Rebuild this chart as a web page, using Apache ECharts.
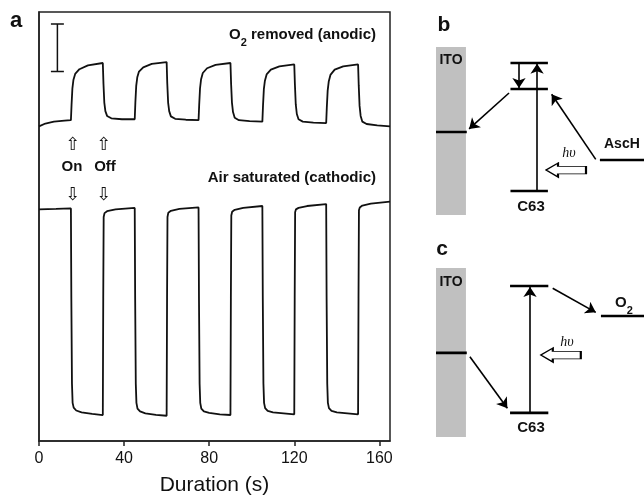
<!DOCTYPE html>
<html>
<head>
<meta charset="utf-8">
<script src="https://cdn.jsdelivr.net/npm/echarts@6/dist/echarts.min.js"></script>
<style>html,body{margin:0;padding:0;background:#fff}#c{width:644px;height:495px}</style>
</head>
<body>
<div id="c"></div>
<script>
// ---------- Panel a data (time in s, current in arbitrary units) ----------
const timeTicks = [0, 40, 80, 120, 160];
const anodic = [
  [0, 66.0], [3, 66.6], [7, 67.0], [12, 67.2], [15, 67.3],
  [15.3, 70.5], [15.7, 74.0], [16.2, 75.8], [17, 77.0], [19, 78.0], [23, 78.8], [30, 79.3],
  [30.3, 75.0], [30.7, 71.0], [31.2, 69.2], [32, 68.2], [34, 67.7], [39, 67.5], [45, 67.5],
  [45.3, 71.0], [45.7, 74.5], [46.2, 76.3], [47, 77.5], [49, 78.4], [53, 79.1], [60, 79.5],
  [60.3, 75.0], [60.7, 71.0], [61.2, 69.2], [62, 68.1], [64, 67.6], [69, 67.4], [75, 67.3],
  [75.3, 70.5], [75.7, 74.0], [76.2, 75.9], [77, 77.2], [79, 78.2], [83, 78.9], [90, 79.3],
  [90.3, 75.0], [90.7, 71.0], [91.2, 69.0], [92, 67.8], [94, 67.3], [99, 67.1], [105, 67.0],
  [105.3, 70.3], [105.7, 73.8], [106.2, 75.6], [107, 76.9], [109, 77.9], [113, 78.6], [120, 79.0],
  [120.3, 74.8], [120.7, 70.6], [121.2, 68.6], [122, 67.5], [124, 67.0], [129, 66.8], [135, 66.7],
  [135.3, 70.0], [135.7, 73.5], [136.2, 75.4], [137, 76.8], [139, 77.9], [143, 78.6], [150, 79.0],
  [150.3, 74.6], [150.7, 70.3], [151.2, 68.2], [152, 67.0], [154, 66.5], [159, 66.2], [165, 66.0]
];
const cathodic = [
  [0, 48.6], [8, 48.7], [15, 48.8],
  [15.2, 30], [15.5, 12], [15.8, 8.0], [16.3, 7.0], [17.5, 6.4], [20, 6.0], [25, 5.7], [30, 5.45],
  [30.2, 30], [30.4, 47.0], [30.8, 47.8], [32, 48.2], [36, 48.6], [45, 48.9],
  [45.2, 30], [45.5, 12], [45.8, 8.0], [46.3, 6.8], [47.5, 6.2], [50, 5.8], [55, 5.5], [60, 5.3],
  [60.2, 30], [60.4, 47.0], [60.8, 47.9], [62, 48.3], [66, 48.7], [75, 49.0],
  [75.2, 30], [75.5, 12], [75.8, 8.0], [76.3, 6.8], [77.5, 6.2], [80, 5.9], [85, 5.6], [90, 5.45],
  [90.2, 30], [90.4, 47.3], [90.8, 48.1], [92, 48.5], [96, 48.9], [105, 49.3],
  [105.2, 30], [105.5, 12], [105.8, 8.0], [106.3, 6.9], [107.5, 6.3], [110, 6.0], [115, 5.8], [120, 5.6],
  [120.2, 30], [120.4, 48.0], [120.8, 48.6], [122, 48.9], [126, 49.3], [135, 49.7],
  [135.2, 30], [135.5, 12], [135.8, 8.0], [136.3, 6.9], [137.5, 6.3], [140, 6.0], [145, 5.8], [150, 5.6],
  [150.2, 30], [150.4, 48.4], [150.8, 49.0], [152, 49.4], [156, 49.8], [165, 50.2]
];
// scale bar: 10 units tall
const scaleBar = [[5.6, 87.5], [11.7, 87.5], [8.65, 87.5], [8.65, 77.5], [5.6, 77.5], [11.7, 77.5]];

// ---------- Panel b energy diagram (schematic units) ----------
const bITOBar = [[0, 0], [1.44, 8]];
const bITO = [[0, 3.95], [1.48, 3.95]];
const bC63Top = [[3.58, 7.24], [5.38, 7.24]];
const bC63Mid = [[3.58, 6.0], [5.38, 6.0]];
const bC63Ground = [[3.58, 1.14], [5.38, 1.14]];
const bAscH = [[7.88, 2.62], [10, 2.62]];
const bArrows = [
  [[3.99, 7.24], [3.99, 6.05]],
  [[4.86, 1.14], [4.86, 7.2]],
  [[3.51, 5.81], [1.59, 4.1]],
  [[7.68, 2.65], [5.56, 5.75]]
];
const bLight = [[6.25, 2.14]];

// ---------- Panel c energy diagram (schematic units) ----------
const cITOBar = [[0, 0], [1.44, 8]];
const cITO = [[0, 3.98], [1.48, 3.98]];
const cC63Top = [[3.56, 7.15], [5.4, 7.15]];
const cC63Ground = [[3.56, 1.14], [5.4, 1.14]];
const cO2 = [[7.93, 5.73], [10, 5.73]];
const cArrows = [
  [[4.52, 1.14], [4.52, 7.1]],
  [[5.61, 7.04], [7.68, 5.9]],
  [[1.63, 3.8], [3.43, 1.36]]
];
const cLight = [[6.0, 3.88]];

const FONT = '"Liberation Sans", Arial, sans-serif';
const chart = echarts.init(document.getElementById('c'), null, {renderer: 'canvas'});

function levelSeries(data, gi, area) {
  const s = {
    type: 'line', xAxisIndex: gi, yAxisIndex: gi, data: data, symbol: 'none',
    lineStyle: {color: '#000', width: 2.6}, silent: true, animation: false, z: 3
  };
  if (area) {
    s.markArea = {silent: true, itemStyle: {color: '#c0c0c0'},
      data: [[{coord: area[0]}, {coord: area[1]}]]};
  }
  return s;
}
function arrowSeries(arr, gi) {
  return {
    type: 'lines', coordinateSystem: 'cartesian2d', xAxisIndex: gi, yAxisIndex: gi,
    symbol: ['none', 'arrow'], symbolSize: 10, silent: true, animation: false, z: 4,
    lineStyle: {color: '#000', width: 1.6, opacity: 1, curveness: 0},
    data: arr.map(c => ({coords: c}))
  };
}
const hollowArrow = 'path://M0,6.5 L12,0 L12,3 L40,3 L40,10 L12,10 L12,13 Z';
function lightSeries(data, gi) {
  return {
    type: 'scatter', xAxisIndex: gi, yAxisIndex: gi, data: data, symbol: hollowArrow,
    symbolSize: [40, 14], silent: true, animation: false, z: 4,
    itemStyle: {color: '#fff', borderColor: '#000', borderWidth: 1.3, opacity: 1}
  };
}

function txt(x, y, text, size, opts) {
  opts = opts || {};
  return {
    type: 'text', silent: true, z: 10,
    style: Object.assign({
      x: x, y: y, text: text, fill: '#111',
      font: (opts.weight || 'bold') + ' ' + size + 'px ' + (opts.family || FONT),
      align: opts.align || 'center', verticalAlign: 'middle'
    }, opts.style || {})
  };
}
function rich(x, y, parts, size, align) {
  return {
    type: 'text', silent: true, z: 10,
    style: {
      x: x, y: y, text: parts, align: align, verticalAlign: 'middle', fill: '#111',
      rich: {
        b: {fontFamily: FONT, fontWeight: 'bold', fontSize: size, fill: '#111'},
        s: {fontFamily: FONT, fontWeight: 'bold', fontSize: Math.round(size * 0.75), fill: '#111', verticalAlign: 'bottom', padding: [0, 0, -6, 0]}
      }
    }
  };
}
const ARW = {weight: 'normal', family: '"DejaVu Sans", sans-serif'};

const option = {
  backgroundColor: '#fff',
  animation: false,
  grid: [
    {left: 39, top: 12, width: 351, height: 429, show: true, borderColor: '#222', borderWidth: 1.5, backgroundColor: 'transparent', outerBoundsMode: 'none'},
    {left: 436, top: 47, width: 208, height: 168, outerBoundsMode: 'none'},
    {left: 436, top: 268, width: 208, height: 169, outerBoundsMode: 'none'}
  ],
  xAxis: [
    {
      type: 'value', gridIndex: 0, min: 0, max: 165, interval: 40,
      name: 'Duration (s)', nameLocation: 'middle', nameGap: 34,
      nameTextStyle: {fontFamily: FONT, fontSize: 21, color: '#111'},
      axisLine: {show: true, lineStyle: {color: '#222', width: 1.5}},
      axisTick: {show: true, length: 5, customValues: timeTicks, lineStyle: {color: '#222', width: 1.5}},
      axisLabel: {show: true, customValues: timeTicks, margin: 10, fontFamily: FONT, fontSize: 16, color: '#111'},
      splitLine: {show: false}
    },
    {type: 'value', gridIndex: 1, min: 0, max: 10, show: false},
    {type: 'value', gridIndex: 2, min: 0, max: 10, show: false}
  ],
  yAxis: [
    {
      type: 'value', gridIndex: 0, min: 0, max: 90,
      axisLine: {show: true, lineStyle: {color: '#222', width: 1.5}},
      axisTick: {show: false}, axisLabel: {show: false}, splitLine: {show: false}
    },
    {type: 'value', gridIndex: 1, min: 0, max: 8, show: false},
    {type: 'value', gridIndex: 2, min: 0, max: 8, show: false}
  ],
  series: [
    {type: 'line', name: 'O2 removed (anodic)', data: anodic, symbol: 'none', xAxisIndex: 0, yAxisIndex: 0,
      lineStyle: {color: '#111', width: 1.8}, silent: true},
    {type: 'line', name: 'Air saturated (cathodic)', data: cathodic, symbol: 'none', xAxisIndex: 0, yAxisIndex: 0,
      lineStyle: {color: '#111', width: 1.8}, silent: true},
    {type: 'line', name: 'scale', data: scaleBar, symbol: 'none', xAxisIndex: 0, yAxisIndex: 0,
      lineStyle: {color: '#111', width: 1.5}, silent: true},
    // panel b
    levelSeries(bITO, 1, bITOBar),
    levelSeries(bC63Top, 1),
    levelSeries(bC63Mid, 1),
    levelSeries(bC63Ground, 1),
    levelSeries(bAscH, 1),
    arrowSeries(bArrows, 1),
    lightSeries(bLight, 1),
    // panel c
    levelSeries(cITO, 2, cITOBar),
    levelSeries(cC63Top, 2),
    levelSeries(cC63Ground, 2),
    levelSeries(cO2, 2),
    arrowSeries(cArrows, 2),
    lightSeries(cLight, 2)
  ],
  graphic: [
    txt(16, 21, 'a', 22),
    txt(444, 25, 'b', 21),
    txt(442, 249, 'c', 21),
    rich(376, 35, '{b|O}{s|2}{b| removed (anodic)}', 15, 'right'),
    txt(376, 178, 'Air saturated (cathodic)', 15, {align: 'right'}),
    txt(72, 167, 'On', 15),
    txt(105, 167, 'Off', 15),
    txt(73, 145, '\u21E7', 18, ARW),
    txt(104, 145, '\u21E7', 18, ARW),
    txt(73, 195, '\u21E9', 18, ARW),
    txt(104, 195, '\u21E9', 18, ARW),
    // panel b
    txt(451, 60, 'ITO', 14),
    txt(531, 207, 'C63', 15),
    txt(604, 144, 'AscH', 14, {align: 'left'}),
    txt(569, 153, 'h\u03C5', 14, {weight: 'italic', family: '"Liberation Serif", "DejaVu Serif", serif'}),
    // panel c
    txt(451, 282, 'ITO', 14),
    txt(531, 428, 'C63', 15),
    rich(624, 303, '{b|O}{s|2}', 15, 'center'),
    txt(567, 342, 'h\u03C5', 14, {weight: 'italic', family: '"Liberation Serif", "DejaVu Serif", serif'})
  ]
};
chart.setOption(option);
</script>
</body>
</html>
